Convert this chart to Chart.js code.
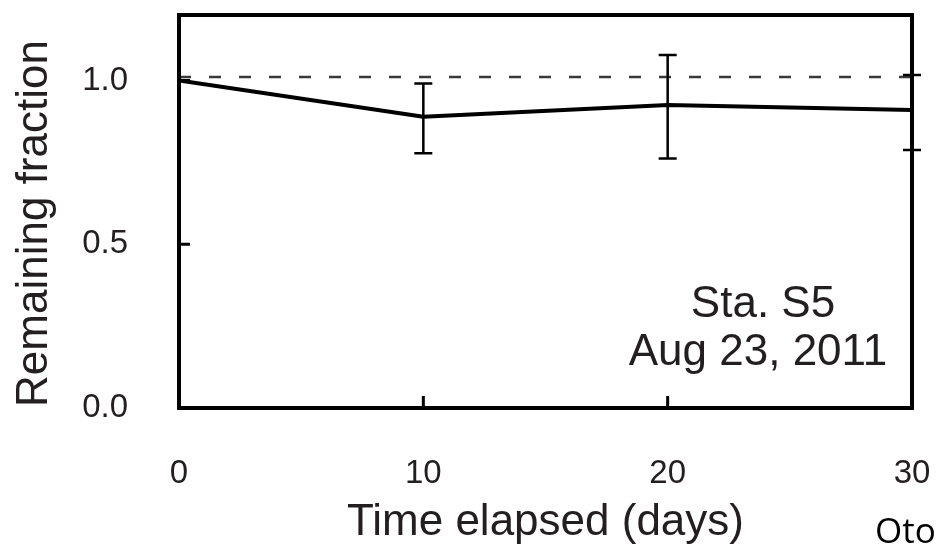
<!DOCTYPE html>
<html><head><meta charset="utf-8">
<script src="https://cdn.jsdelivr.net/npm/chart.js@4/dist/chart.umd.min.js"></script>
<style>html,body{margin:0;padding:0;background:#fff;} #wrap{position:relative;width:939px;height:549px;}</style>
</head><body><div id="wrap"><canvas id="c"></canvas></div>
<script>
const days = [0, 10, 20, 30];
const remaining = [1.0, 0.889, 0.925, 0.910];
const errHigh = [null, 0.991, 1.078, 1.017];
const errLow = [null, 0.778, 0.762, 0.788];
const referenceDays = [0, 30];
const referenceLevel = [1.011, 1.011];
const xTicks = [0, 10, 20, 30];
const yTicks = [0, 0.5, 1.0];
const annotationLines = ['Sta. S5', 'Aug 23, 2011'];
const xTitle = 'Time elapsed (days)';
const yTitle = 'Remaining fraction';
const credit = 'Oto';

const TXT = '#231f20';
const FONT = '"Liberation Sans", Arial, sans-serif';

const extras = {
  id: 'extras',
  afterDatasetsDraw(chart) {
    const {ctx, chartArea: a, scales: {x, y}} = chart;
    ctx.save();
    // error bars
    ctx.strokeStyle = '#000';
    ctx.lineWidth = 2.5;
    days.forEach((d, i) => {
      if (errHigh[i] == null) return;
      const px = x.getPixelForValue(d);
      const yt = y.getPixelForValue(errHigh[i]);
      const yb = y.getPixelForValue(errLow[i]);
      ctx.beginPath();
      ctx.moveTo(px, yt); ctx.lineTo(px, yb);
      ctx.moveTo(px - 9, yt); ctx.lineTo(px + 9, yt);
      ctx.moveTo(px - 9, yb); ctx.lineTo(px + 9, yb);
      ctx.stroke();
    });
    // frame
    ctx.lineWidth = 4;
    ctx.strokeRect(a.left, a.top, a.right - a.left, a.bottom - a.top);
    // inward ticks
    ctx.lineWidth = 3;
    ctx.beginPath();
    xTicks.forEach(v => {
      const px = x.getPixelForValue(v);
      if (px <= a.left + 2 || px >= a.right - 2) return;
      ctx.moveTo(px, a.bottom); ctx.lineTo(px, a.bottom - 12);
    });
    yTicks.forEach(v => {
      const py = y.getPixelForValue(v);
      if (py >= a.bottom - 2 || py <= a.top + 2) return;
      ctx.moveTo(a.left, py); ctx.lineTo(a.left + 11, py);
    });
    ctx.stroke();
    // annotation
    ctx.fillStyle = TXT;
    ctx.font = '44px ' + FONT;
    ctx.textAlign = 'center';
    ctx.textBaseline = 'alphabetic';
    ctx.fillText(annotationLines[0], a.right - 149, a.bottom - 91);
    ctx.fillText(annotationLines[1], a.right - 154, a.bottom - 43);
    // y title
    ctx.save();
    ctx.translate(47, (a.top + a.bottom) / 2 + 12);
    ctx.rotate(-Math.PI / 2);
    ctx.fillText(yTitle, 0, 0);
    ctx.restore();
    // credit
    ctx.fillStyle = '#000';
    ctx.font = '35px "Open Sans", "Noto Sans", sans-serif';
    ctx.textAlign = 'left';
    ctx.fillText(credit, 875, 543);
    ctx.restore();
  }
};

new Chart(document.getElementById('c'), {
  type: 'line',
  data: {
    datasets: [
      {
        data: referenceDays.map((d, i) => ({x: d, y: referenceLevel[i]})),
        borderColor: '#3a3a3a', borderWidth: 2.5, borderDash: [12, 18],
        pointRadius: 0, fill: false
      },
      {
        data: days.map((d, i) => ({x: d, y: remaining[i]})),
        borderColor: '#000', borderWidth: 4, pointRadius: 0, tension: 0,
        fill: false, borderJoinStyle: 'round'
      }
    ]
  },
  options: {
    responsive: true, maintainAspectRatio: false, animation: false,
    layout: {padding: {top: 15, right: 27, left: 0, bottom: 0}},
    plugins: {legend: {display: false}, tooltip: {enabled: false}},
    scales: {
      x: {
        type: 'linear', min: 0, max: 30,
        afterBuildTicks: s => { s.ticks = xTicks.map(v => ({value: v})); },
        afterFit: s => { s.height = 141; s.paddingLeft = 0; s.paddingRight = 0; },
        grid: {display: false, drawTicks: false},
        border: {display: false},
        ticks: {color: TXT, font: {family: FONT, size: 33}, padding: 46, maxRotation: 0, autoSkip: false},
        title: {display: true, text: xTitle, color: TXT, font: {family: FONT, size: 44}, padding: {top: 0, bottom: 0}}
      },
      y: {
        type: 'linear', min: 0, max: 1.2,
        afterBuildTicks: s => { s.ticks = yTicks.map(v => ({value: v})); },
        afterFit: s => { s.width = 179; s.paddingTop = 0; s.paddingBottom = 0; },
        grid: {display: false, drawTicks: false},
        border: {display: false},
        ticks: {color: TXT, font: {family: FONT, size: 33}, padding: 51, callback: v => Number(v).toFixed(1)}
      }
    }
  },
  plugins: [extras]
});
</script>
</body></html>
